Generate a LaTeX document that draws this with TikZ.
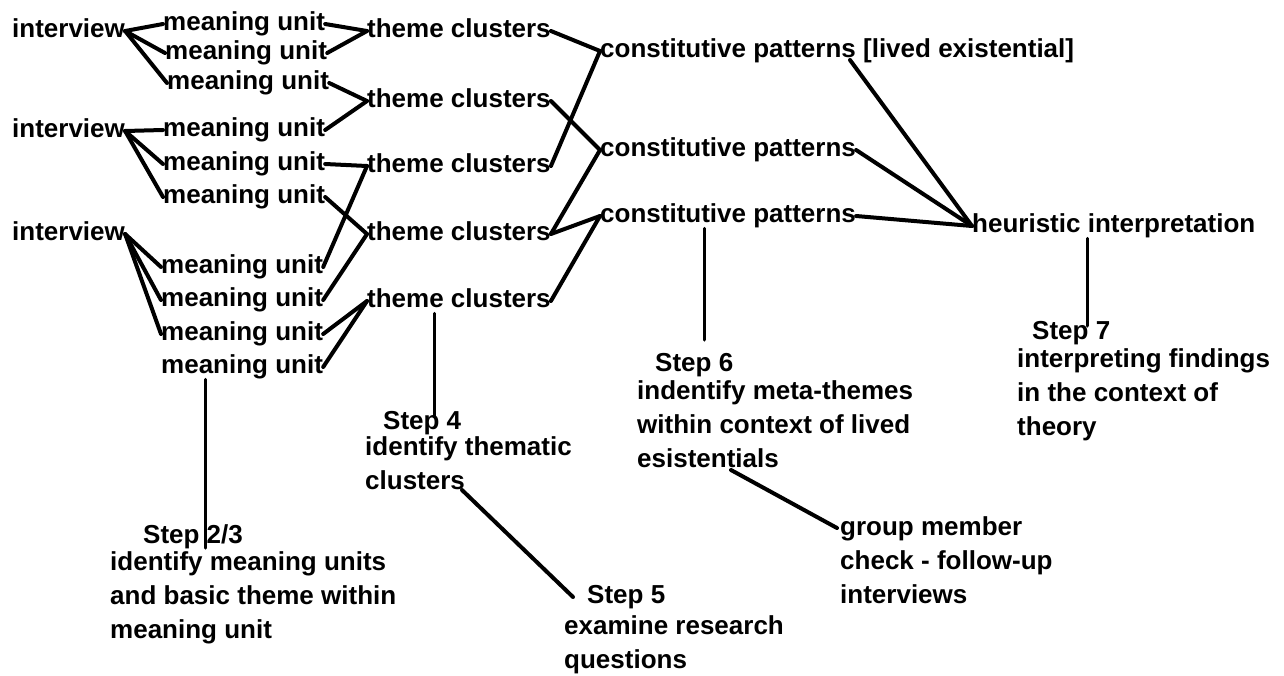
\documentclass[tikz,border=0pt]{standalone}
\usepackage{fontspec}
\setmainfont{Liberation Sans}
\begin{document}
\begin{tikzpicture}[x=1pt,y=-1pt,line cap=round,line join=round,
    font=\fontsize{26}{34}\selectfont\bfseries,
    lbl/.style={inner sep=0pt,text height=19pt,text depth=5.5pt,anchor=west},
    blk/.style={inner sep=0pt,align=left,anchor=north west},
    link/.style={line width=4pt},
    stem/.style={line width=3pt}]
  \fill[white] (0,0) rectangle (1284,675);
  \useasboundingbox (0,0) rectangle (1284,675);
  % interviews and meaning units
  \foreach \y [count=\i] in {31,131,234}
    \node[lbl] (int\i) at (12,\y) {interview};
  \foreach \x/\y [count=\i] in {163/24,165/53,167/83,163/130,163/164,163/197,161/267,161/300,161/334,161/367}
    \node[lbl] (mu\i) at (\x,\y) {meaning unit};
  % themes and patterns
  \foreach \y [count=\i] in {31,101,166,234,301}
    \node[lbl] (tc\i) at (367,\y) {theme clusters};
  \node[lbl] (cp1) at (600,51) {constitutive patterns [lived existential]};
  \node[lbl] (cp2) at (600,150) {constitutive patterns};
  \node[lbl] (cp3) at (600,216) {constitutive patterns};
  \node[lbl] (hi) at (972,226) {heuristic interpretation};
  % steps
  \node[lbl] (s23) at (143,537) {Step 2/3};
  \node[blk] (s23b) at (110,551) {identify meaning units\\and basic theme within\\meaning unit};
  \node[lbl] (s4) at (383,423) {Step 4};
  \node[blk] (s4b) at (365,436) {identify thematic\\clusters};
  \node[lbl] (s5) at (587,597) {Step 5};
  \node[blk] (s5b) at (564,615) {examine research\\questions};
  \node[lbl] (s6) at (655,365) {Step 6};
  \node[blk] (s6b) at (637,380) {indentify meta-themes\\within context of lived\\esistentials};
  \node[blk] (gm) at (840,516) {group member\\check - follow-up\\interviews};
  \node[lbl] (s7) at (1032,333) {Step 7};
  \node[blk] (s7b) at (1017,348) {interpreting findings\\in the context of\\theory};
  % connectors
  \foreach \a/\b in {int1/mu1,int1/mu2,int1/mu3,int2/mu4,int2/mu5,int2/mu6,int3/mu7,int3/mu8,int3/mu9,
      mu1/tc1,mu2/tc1,mu3/tc2,mu4/tc2,mu5/tc3,mu7/tc3,mu6/tc4,mu8/tc4,mu9/tc5,mu10/tc5,
      tc1/cp1,tc3/cp1,tc2/cp2,tc4/cp2,tc4/cp3,tc5/cp3,cp2/hi,cp3/hi}
    \draw[link] (\a.east) -- (\b.west);
  \coordinate (cp1e) at (850,60);
  \draw[link] (cp1e) -- (hi.west);
  \coordinate (s4e) at (462,490);
  \draw[link] (s4e) -- ([xshift=-14pt]s5.west);
  \coordinate (s6e) at (731,470);
  \draw[link] (s6e) -- ([shift={(-3,12)}]gm.north west);
  % stems down to the steps
  \coordinate (k23) at (205,548);
  \draw[stem] (mu10.south -| k23) -- (k23);
  \coordinate (k4) at (434,417);
  \draw[stem] (tc5.south -| k4) -- (k4);
  \coordinate (k6) at (704,340);
  \draw[stem] (cp3.south -| k6) -- (k6);
  \coordinate (k7) at (1087,326);
  \draw[stem] (hi.south -| k7) -- (k7);
\end{tikzpicture}
\end{document}
